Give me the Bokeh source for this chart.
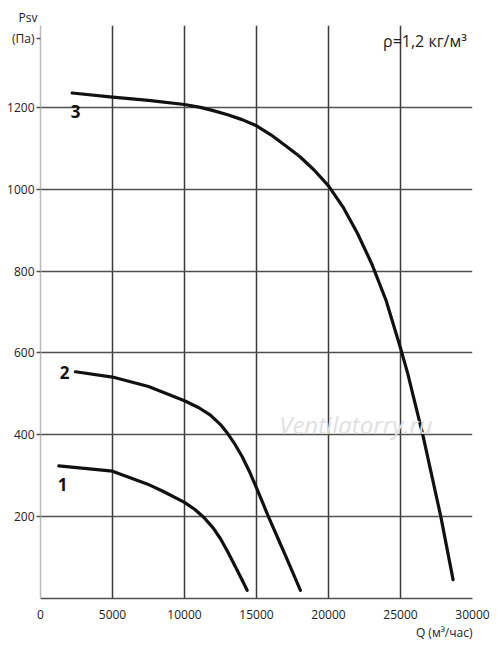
from bokeh.plotting import figure
from bokeh.models import FixedTicker, Range1d, Label, Title
from bokeh.embed import file_html
from bokeh.resources import INLINE

# ---- data ----
x_ticks = [0, 5000, 10000, 15000, 20000, 25000, 30000]
y_ticks = [200, 400, 600, 800, 1000, 1200]
y_top = 1400
y_unit_pos = 1368

curve1_q = [1270, 5000, 7400, 8500, 10000, 10700, 11350, 12000, 12500, 13000, 13500, 14000, 14350]
curve1_p = [324, 311, 280, 262, 235, 218, 198, 172, 146, 114, 80, 45, 20]

curve2_q = [2430, 5000, 7500, 10000, 11000, 11800, 12500, 13000, 13500, 14000, 14500, 15000, 15500, 15850, 16500, 17000, 17500, 18050]
curve2_p = [554, 541, 518, 483, 466, 448, 425, 403, 377, 347, 311, 270, 228, 198, 146, 106, 65, 20]

curve3_q = [2200, 5000, 7500, 10000, 11100, 12000, 13000, 14000, 15000, 16000, 17000, 18000, 19000, 20000, 21000, 22000, 23000, 24000, 25000, 25500, 26550, 27800, 28650]
curve3_p = [1235, 1225, 1217, 1207, 1200, 1192, 1182, 1170, 1155, 1133, 1107, 1080, 1047, 1008, 957, 893, 818, 728, 612, 550, 400, 200, 46]

curve_labels = ["1", "2", "3"]
label_q = [1530, 1670, 2430]
label_p = [278, 551, 1190]

FONT = "Open Sans"

p = figure(width=496, height=645, output_backend="svg", toolbar_location=None,
           x_range=Range1d(0, 30000), y_range=Range1d(0, y_top),
           min_border_left=40, min_border_right=24, min_border_top=25, min_border_bottom=47)
p.outline_line_color = None
p.background_fill_color = "white"
p.border_fill_color = "white"

# grid
p.xgrid.ticker = FixedTicker(ticks=x_ticks[1:])
p.ygrid.ticker = FixedTicker(ticks=y_ticks + [y_top])
p.xgrid.grid_line_color = "#3a3a3a"
p.ygrid.grid_line_color = "#505050"
p.xgrid.grid_line_width = 1.5
p.ygrid.grid_line_width = 1.5

# x axis
p.xaxis.ticker = FixedTicker(ticks=x_ticks)
p.xaxis.axis_line_color = "#505050"
p.xaxis.axis_line_width = 1.5
p.xaxis.major_tick_line_color = None
p.xaxis.minor_tick_line_color = None
p.xaxis.major_label_standoff = 5
p.xaxis.major_label_text_font = FONT
p.xaxis.major_label_text_font_size = "12px"
p.xaxis.major_label_text_color = "#222222"

# y axis (unit shown as the label of an extra tick)
p.yaxis.ticker = FixedTicker(ticks=y_ticks + [y_unit_pos])
p.yaxis.major_label_overrides = {y_unit_pos: "(Па)"}
p.yaxis.axis_line_color = "#bbbbbb"
p.yaxis.axis_line_width = 1.5
p.yaxis.major_tick_line_color = "#505050"
p.yaxis.major_tick_line_width = 1.5
p.yaxis.major_tick_out = 4
p.yaxis.major_tick_in = 0
p.yaxis.minor_tick_line_color = None
p.yaxis.major_label_standoff = 2
p.yaxis.major_label_text_font = FONT
p.yaxis.major_label_text_font_size = "12px"
p.yaxis.major_label_text_color = "#222222"

# axis titles
p.add_layout(Title(text="Psv", align="left", offset=-22, text_font=FONT, text_font_size="12px",
                   text_font_style="normal", text_color="#222222", standoff=0), "above")
p.add_layout(Title(text="Q (м³/час)", align="right", text_font=FONT, text_font_size="12px",
                   text_font_style="normal", text_color="#222222", standoff=0), "below")

# watermark
p.add_layout(Label(x=21900, y=424, text="Ventilatorry.ru", text_font=FONT,
                   text_font_style="italic", text_font_size="24px",
                   text_color="#e0e0e0", text_align="center", text_baseline="middle"))

# curves
for q, pv in [(curve1_q, curve1_p), (curve2_q, curve2_p), (curve3_q, curve3_p)]:
    p.line(q, pv, line_color="#111111", line_width=3.2, line_cap="round", line_join="round")

for t, q, pv in zip(curve_labels, label_q, label_p):
    p.add_layout(Label(x=q, y=pv, text=t, text_font=FONT, text_font_style="bold",
                       text_font_size="17px", text_color="#111111",
                       text_align="center", text_baseline="middle"))

# density note
p.add_layout(Label(x=29600, y=1361, text="ρ=1,2 кг/м³", text_font=FONT, text_font_size="16px",
                   text_color="#222222", text_align="right", text_baseline="middle"))

open("out.html", "w").write(file_html(p, INLINE))
